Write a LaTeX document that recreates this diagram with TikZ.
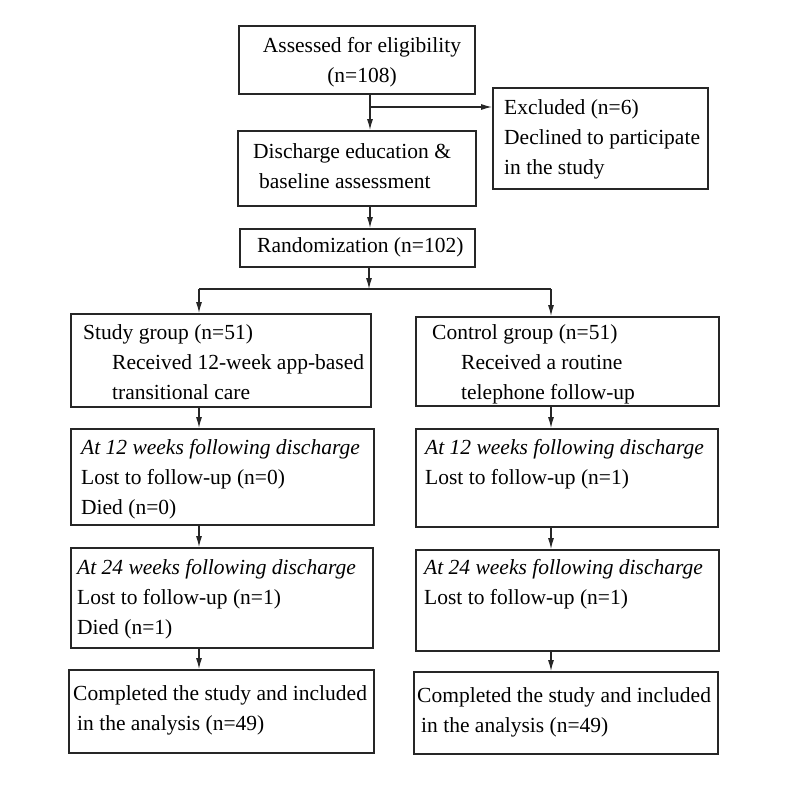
\documentclass[tikz,border=0pt]{standalone}
\usepackage{fontspec}
\setmainfont{Liberation Serif}
\usetikzlibrary{arrows.meta}

\begin{document}
\begin{tikzpicture}[x=1pt,y=-1pt,
    box/.style={draw=black!85,line width=1.8pt,anchor=north west,inner sep=0pt},
    txt/.style={anchor=base west,align=left,inner sep=0pt,font=\fontsize{21.5}{30}\selectfont},
    arr/.style={line width=1.1pt,draw=black!85,-{Latex[length=11pt,width=6pt]}}]
\useasboundingbox[fill=white] (0,0) rectangle (800,800);

\coordinate (mid) at (370,0);
\coordinate (colL) at (199,0);
\coordinate (colR) at (551,0);

\node[box,minimum width=236pt,minimum height=68pt] (assess) at (238,25) {};
\node[box,minimum width=215pt,minimum height=101pt] (excl) at (492,87) {};
\node[box,minimum width=238pt,minimum height=75pt] (disch) at (237,130) {};
\node[box,minimum width=235pt,minimum height=38pt] (rand) at (239,228) {};

\node[box,minimum width=300pt,minimum height=93pt] (study) at (70,313) {};
\node[box,minimum width=303pt,minimum height=89pt] (ctrl) at (415,316) {};
\node[box,minimum width=303pt,minimum height=96pt] (leftA) at (70,428) {};
\node[box,minimum width=302pt,minimum height=98pt] (rightA) at (415,428) {};
\node[box,minimum width=302pt,minimum height=100pt] (leftB) at (70,547) {};
\node[box,minimum width=303pt,minimum height=101pt] (rightB) at (415,549) {};
\node[box,minimum width=305pt,minimum height=83pt] (leftC) at (68,669) {};
\node[box,minimum width=304pt,minimum height=82pt] (rightC) at (413,671) {};

% text nodes sit on the baseline of their last line
\node[txt,align=center,anchor=base] at (362,82) {Assessed for eligibility\\(n=108)};
\node[txt] at (504,174) {Excluded (n=6)\\Declined to participate\\in the study};
\node[txt] at (253,188) {Discharge education \&\\\hspace{6pt}baseline assessment};
\node[txt] at (257,252) {Randomization (n=102)};

\node[txt] at (83,399) {Study group (n=51)\\\hspace{29pt}Received 12-week app-based\\\hspace{29pt}transitional care};
\node[txt] at (432,399) {Control group (n=51)\\\hspace{29pt}Received a routine\\\hspace{29pt}telephone follow-up};
\node[txt] at (81,514) {\textit{At 12 weeks following discharge}\\Lost to follow-up (n=0)\\Died (n=0)};
\node[txt] at (425,484) {\textit{At 12 weeks following discharge}\\Lost to follow-up (n=1)};
\node[txt] at (77,634) {\textit{At 24 weeks following discharge}\\Lost to follow-up (n=1)\\Died (n=1)};
\node[txt] at (424,604) {\textit{At 24 weeks following discharge}\\Lost to follow-up (n=1)};
\node[txt] at (73,730) {Completed the study and included\\\hspace{4pt}in the analysis (n=49)};
\node[txt] at (417,732) {Completed the study and included\\\hspace{4pt}in the analysis (n=49)};

\coordinate (branch) at (371,107);
\coordinate (split) at (369,289);
\draw[arr] (assess.south -| mid) -- (disch.north -| mid);
\draw[arr] (branch) -- (branch -| excl.west);
\draw[arr] (disch.south -| mid) -- (rand.north -| mid);
\draw[arr] (rand.south -| split) -- (split);
\draw[line width=1.1pt,black!85] (split -| colL) -- (split -| colR);
\draw[arr] (split -| colL) -- (study.north -| colL);
\draw[arr] (split -| colR) -- (ctrl.north -| colR);
\draw[arr] (study.south -| colL) -- (leftA.north -| colL);
\draw[arr] (leftA.south -| colL) -- (leftB.north -| colL);
\draw[arr] (leftB.south -| colL) -- (leftC.north -| colL);
\draw[arr] (ctrl.south -| colR) -- (rightA.north -| colR);
\draw[arr] (rightA.south -| colR) -- (rightB.north -| colR);
\draw[arr] (rightB.south -| colR) -- (rightC.north -| colR);
\end{tikzpicture}
\end{document}
